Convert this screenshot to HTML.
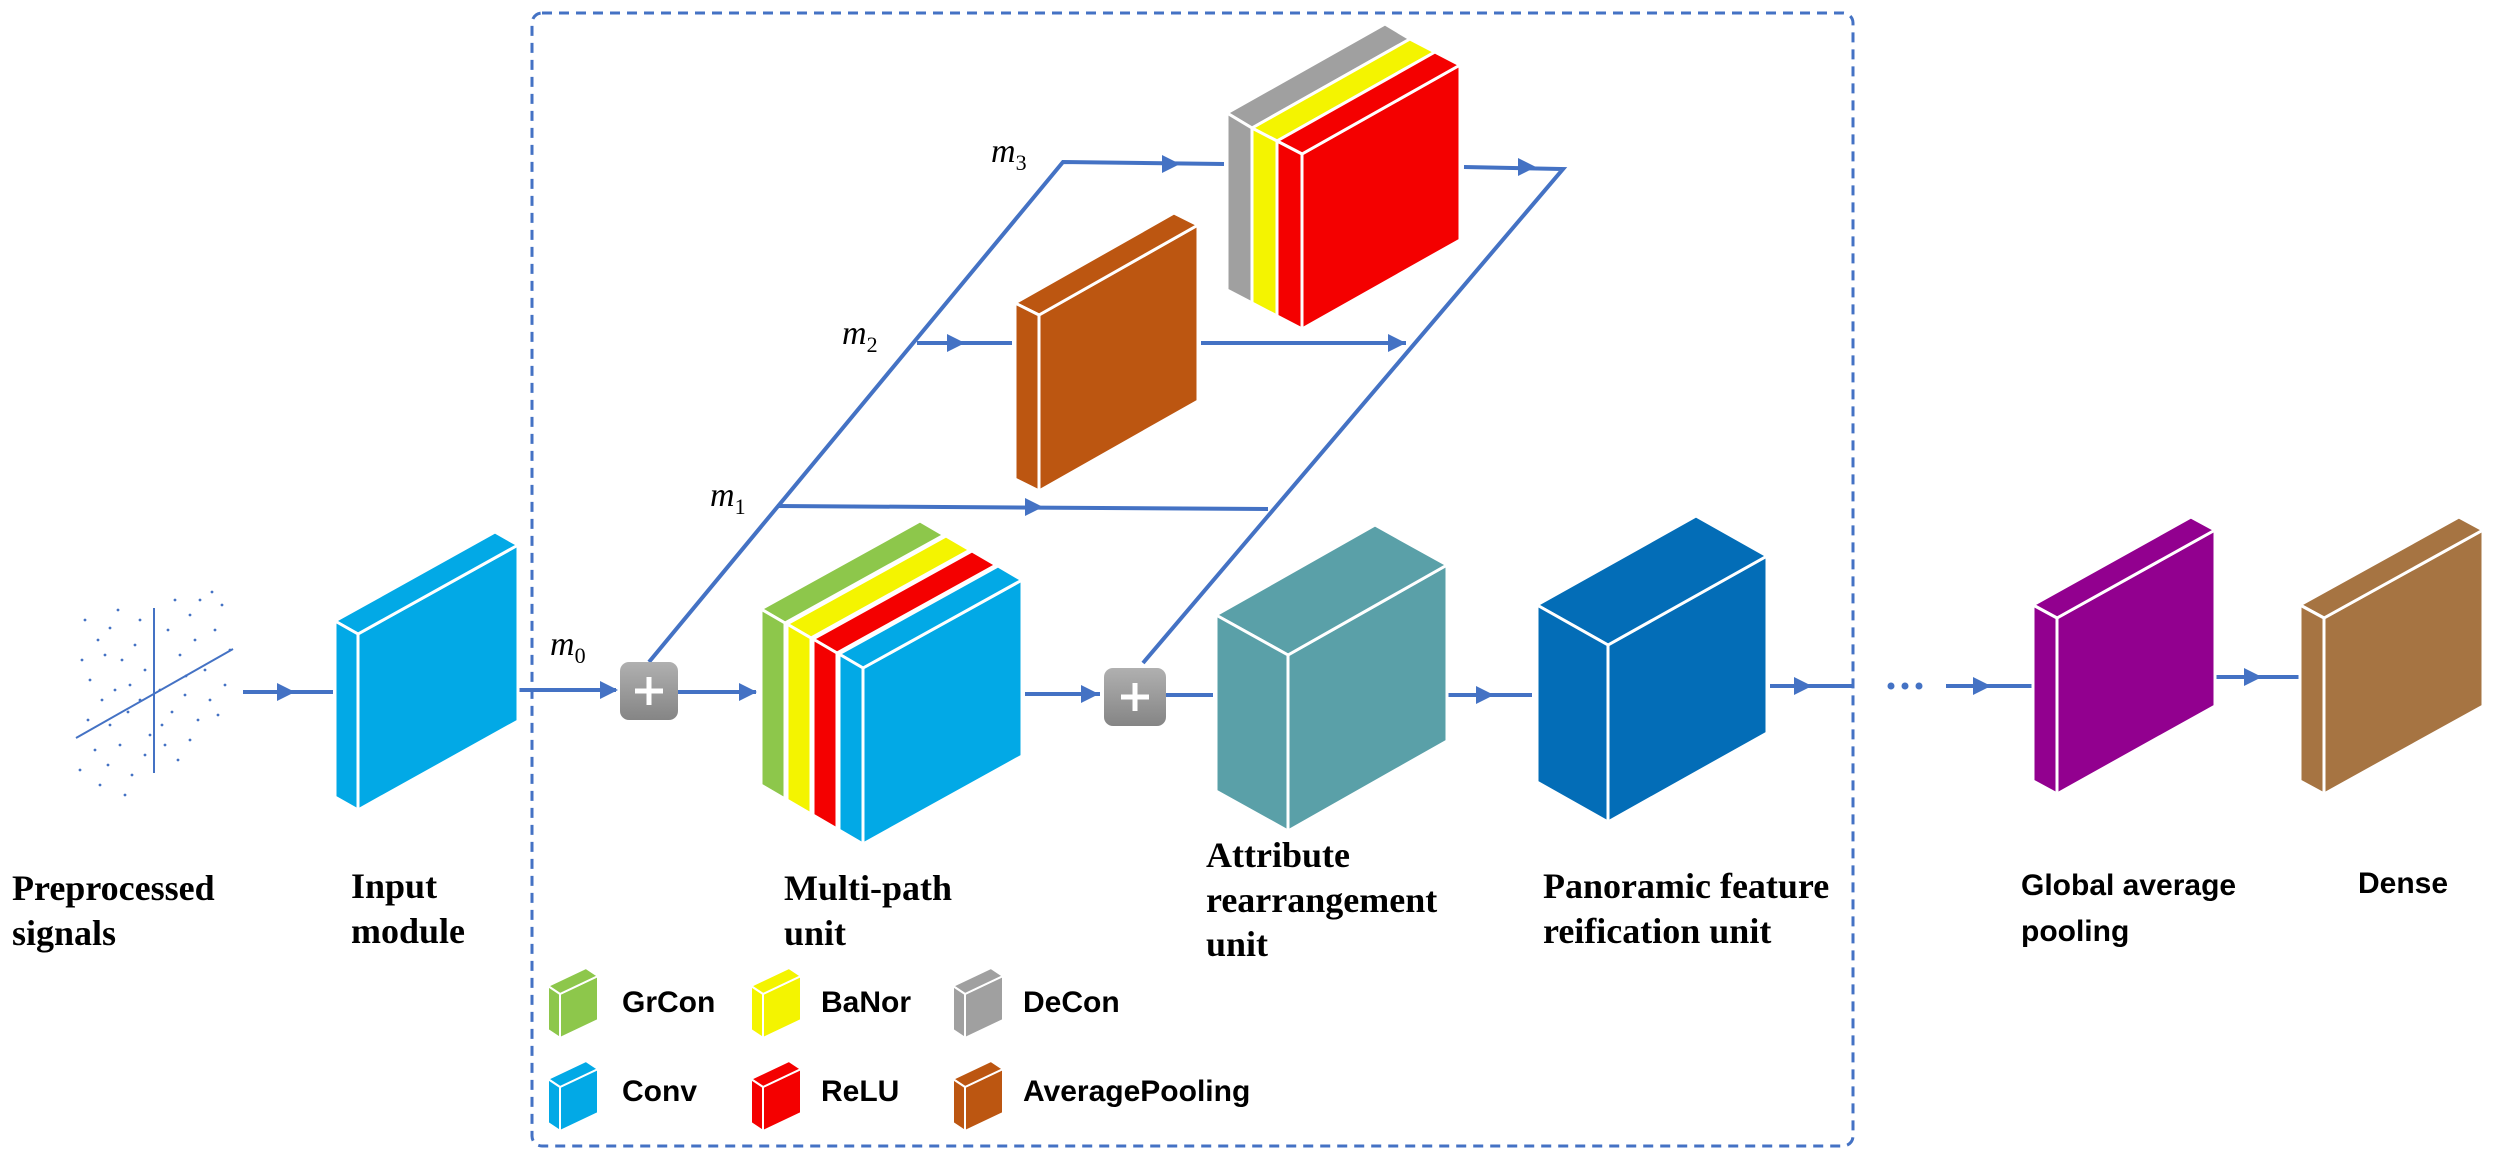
<!DOCTYPE html>
<html><head><meta charset="utf-8"><style>
html,body{margin:0;padding:0;background:#fff}
svg{display:block}
.sl{stroke:#fff;stroke-width:3;stroke-linejoin:round}
.ln{stroke:#4472C4;stroke-width:4;fill:none}
.ah{fill:#4472C4}
.sr{font-family:"Liberation Serif",serif;font-weight:bold;font-size:36px;fill:#000}
.ss{font-family:"Liberation Sans",sans-serif;font-weight:bold;font-size:30px;fill:#000}
.mm{font-family:"Liberation Serif",serif;font-style:italic;font-size:34px;fill:#000}
</style></head><body>
<svg width="2500" height="1163" viewBox="0 0 2500 1163" xmlns="http://www.w3.org/2000/svg">
<defs>
<linearGradient id="pg" x1="0" y1="0" x2="0" y2="1"><stop offset="0" stop-color="#b0b0b0"/><stop offset="1" stop-color="#858585"/></linearGradient>
</defs>
<rect x="532" y="13" width="1321" height="1133" rx="10" fill="none" stroke="#4472C4" stroke-width="3" stroke-dasharray="10,7"/>

<g fill="#4472C4">
<line x1="154" y1="608" x2="154" y2="773" stroke="#4472C4" stroke-width="2"/>
<line x1="76" y1="738" x2="233" y2="649" stroke="#4472C4" stroke-width="2"/>
<circle cx="85" cy="620" r="1.4"/><circle cx="98" cy="640" r="1.4"/><circle cx="110" cy="628" r="1.4"/><circle cx="122" cy="660" r="1.4"/><circle cx="135" cy="645" r="1.4"/><circle cx="145" cy="670" r="1.4"/><circle cx="168" cy="630" r="1.4"/><circle cx="180" cy="655" r="1.4"/><circle cx="195" cy="640" r="1.4"/><circle cx="205" cy="670" r="1.4"/><circle cx="215" cy="630" r="1.4"/><circle cx="222" cy="605" r="1.4"/><circle cx="212" cy="592" r="1.4"/><circle cx="190" cy="615" r="1.4"/><circle cx="90" cy="680" r="1.4"/><circle cx="102" cy="700" r="1.4"/><circle cx="115" cy="690" r="1.4"/><circle cx="128" cy="712" r="1.4"/><circle cx="140" cy="700" r="1.4"/><circle cx="160" cy="690" r="1.4"/><circle cx="172" cy="712" r="1.4"/><circle cx="185" cy="695" r="1.4"/><circle cx="198" cy="720" r="1.4"/><circle cx="210" cy="700" r="1.4"/><circle cx="225" cy="685" r="1.4"/><circle cx="95" cy="750" r="1.4"/><circle cx="108" cy="765" r="1.4"/><circle cx="120" cy="745" r="1.4"/><circle cx="132" cy="775" r="1.4"/><circle cx="145" cy="755" r="1.4"/><circle cx="165" cy="745" r="1.4"/><circle cx="178" cy="760" r="1.4"/><circle cx="190" cy="740" r="1.4"/><circle cx="100" cy="785" r="1.4"/><circle cx="125" cy="795" r="1.4"/><circle cx="82" cy="660" r="1.4"/><circle cx="230" cy="650" r="1.4"/><circle cx="118" cy="610" r="1.4"/><circle cx="140" cy="620" r="1.4"/><circle cx="175" cy="600" r="1.4"/><circle cx="200" cy="600" r="1.4"/><circle cx="88" cy="720" r="1.4"/><circle cx="110" cy="725" r="1.4"/><circle cx="162" cy="725" r="1.4"/><circle cx="186" cy="676" r="1.4"/><circle cx="130" cy="685" r="1.4"/><circle cx="105" cy="655" r="1.4"/><circle cx="218" cy="715" r="1.4"/><circle cx="150" cy="735" r="1.4"/><circle cx="80" cy="770" r="1.4"/>
</g>

<g class="ln">
<line x1="243" y1="692" x2="333" y2="692"/>
<line x1="446" y1="690" x2="616" y2="690"/>
<line x1="678" y1="692" x2="756" y2="692"/>
<polyline points="649,662 1063,162 1224,164"/>
<line x1="777" y1="506" x2="1268" y2="509"/>
<line x1="917" y1="343" x2="1012" y2="343"/>
<line x1="1201" y1="343" x2="1406" y2="343"/>
<polyline points="1464,167 1563,169 1143,663"/>
<line x1="1025" y1="694" x2="1100" y2="694"/>
<line x1="1166" y1="695" x2="1213" y2="695"/>
<line x1="1447" y1="695" x2="1532" y2="695"/>
<line x1="1770" y1="686" x2="1853" y2="686"/>
<line x1="1946" y1="686" x2="2035" y2="686"/>
<line x1="2215" y1="677" x2="2304" y2="677"/>
</g>
<g class="ah">
<polygon points="277,683 295,692 277,701"/>
<polygon points="476,681 494,690 476,699"/>
<polygon points="600,681 618,690 600,699"/>
<polygon points="739,683 757,692 739,701"/>
<polygon points="1162,155 1180,164 1162,173"/>
<polygon points="1025,498 1043,507 1025,516"/>
<polygon points="947,334 965,343 947,352"/>
<polygon points="1388,334 1406,343 1388,352"/>
<polygon points="1518,158 1536,167 1518,176"/>
<polygon points="1081,685 1099,694 1081,703"/>
<polygon points="1476,686 1494,695 1476,704"/>
<polygon points="1794,677 1812,686 1794,695"/>
<polygon points="1973,677 1991,686 1973,695"/>
<polygon points="2244,668 2262,677 2244,686"/>
</g>
<g fill="#4472C4"><circle cx="1891" cy="686" r="3.5"/><circle cx="1905" cy="686" r="3.5"/><circle cx="1919" cy="686" r="3.5"/></g>

<rect x="620" y="662" width="58" height="58" rx="9" fill="url(#pg)"/>
<path d="M649 677 V705 M635 691 H663" stroke="#fff" stroke-width="5"/>
<rect x="1104" y="668" width="62" height="58" rx="9" fill="url(#pg)"/>
<path d="M1135 683 V711 M1121 697 H1149" stroke="#fff" stroke-width="5"/>

<g class="sl" fill="#02A9E6">
<polygon points="358,634 518,545 518,721 358,810"/>
<polygon points="358,634 518,545 495,532 335,621"/>
<polygon points="358,634 358,810 335,797 335,621"/>
</g>
<g class="sl" fill="#8DC74B">
<polygon points="785,623 944,535 944,711 785,799"/><polygon points="785,623 944,535 920,521 761,609"/><polygon points="785,623 785,799 761,785 761,609"/>
</g>
<g class="sl" fill="#F4F400">
<polygon points="811,638 970,550 970,726 811,814"/><polygon points="811,638 970,550 946,536 787,624"/><polygon points="811,638 811,814 787,800 787,624"/>
</g>
<g class="sl" fill="#F40000">
<polygon points="837,653 996,565 996,741 837,829"/><polygon points="837,653 996,565 972,551 813,639"/><polygon points="837,653 837,829 813,815 813,639"/>
</g>
<g class="sl" fill="#02A9E6">
<polygon points="863,668 1022,580 1022,756 863,844"/><polygon points="863,668 1022,580 998,566 839,654"/><polygon points="863,668 863,844 839,830 839,654"/>
</g>
<g class="sl" fill="#A0A0A0">
<polygon points="1252,128 1410,39 1410,214 1252,303"/><polygon points="1252,128 1410,39 1385,24 1227,113"/><polygon points="1252,128 1252,303 1227,290 1227,113"/>
</g>
<g class="sl" fill="#F4F400">
<polygon points="1277,141 1435,52 1435,227 1277,316"/><polygon points="1277,141 1435,52 1410,39 1252,128"/><polygon points="1277,141 1277,316 1252,303 1252,128"/>
</g>
<g class="sl" fill="#F40000">
<polygon points="1302,154 1460,65 1460,240 1302,329"/><polygon points="1302,154 1460,65 1435,52 1277,141"/><polygon points="1302,154 1302,329 1277,316 1277,141"/>
</g>
<g class="sl" fill="#BC5611">
<polygon points="1039,315 1198,225 1198,401 1039,491"/><polygon points="1039,315 1198,225 1174,213 1015,303"/><polygon points="1039,315 1039,491 1015,479 1015,303"/>
</g>
<g class="sl" fill="#5AA0A8">
<polygon points="1288,655 1447,565 1447,741 1288,831"/><polygon points="1288,655 1447,565 1375,525 1216,615"/><polygon points="1288,655 1288,831 1216,791 1216,615"/>
</g>
<g class="sl" fill="#036DB7">
<polygon points="1608,645 1767,556 1767,733 1608,822"/><polygon points="1608,645 1767,556 1696,516 1537,605"/><polygon points="1608,645 1608,822 1537,782 1537,605"/>
</g>
<g class="sl" fill="#92008F">
<polygon points="2057,618 2215,530 2215,706 2057,794"/><polygon points="2057,618 2215,530 2191,517 2033,605"/><polygon points="2057,618 2057,794 2033,781 2033,605"/>
</g>
<g class="sl" fill="#A67442">
<polygon points="2324,618 2483,530 2483,706 2324,794"/><polygon points="2324,618 2483,530 2459,517 2300,605"/><polygon points="2324,618 2324,794 2300,781 2300,605"/>
</g>

<g class="sl" style="stroke-width:2">
<g transform="translate(560,994)" fill="#8DC74B"><polygon points="0,0 38,-18 38,26 0,44"/><polygon points="0,0 38,-18 26,-26 -12,-8"/><polygon points="0,0 0,44 -12,36 -12,-8"/></g>
<g transform="translate(763,994)" fill="#F4F400"><polygon points="0,0 38,-18 38,26 0,44"/><polygon points="0,0 38,-18 26,-26 -12,-8"/><polygon points="0,0 0,44 -12,36 -12,-8"/></g>
<g transform="translate(965,994)" fill="#A0A0A0"><polygon points="0,0 38,-18 38,26 0,44"/><polygon points="0,0 38,-18 26,-26 -12,-8"/><polygon points="0,0 0,44 -12,36 -12,-8"/></g>
<g transform="translate(560,1087)" fill="#02A9E6"><polygon points="0,0 38,-18 38,26 0,44"/><polygon points="0,0 38,-18 26,-26 -12,-8"/><polygon points="0,0 0,44 -12,36 -12,-8"/></g>
<g transform="translate(763,1087)" fill="#F40000"><polygon points="0,0 38,-18 38,26 0,44"/><polygon points="0,0 38,-18 26,-26 -12,-8"/><polygon points="0,0 0,44 -12,36 -12,-8"/></g>
<g transform="translate(965,1087)" fill="#BC5611"><polygon points="0,0 38,-18 38,26 0,44"/><polygon points="0,0 38,-18 26,-26 -12,-8"/><polygon points="0,0 0,44 -12,36 -12,-8"/></g>
</g>
<text class="ss" x="622" y="1012">GrCon</text>
<text class="ss" x="821" y="1012">BaNor</text>
<text class="ss" x="1023" y="1012">DeCon</text>
<text class="ss" x="622" y="1101">Conv</text>
<text class="ss" x="821" y="1101">ReLU</text>
<text class="ss" x="1023" y="1101">AveragePooling</text>

<text class="mm" x="550" y="655">m<tspan font-size="22" dy="8" font-style="normal">0</tspan></text>
<text class="mm" x="710" y="506">m<tspan font-size="22" dy="8" font-style="normal">1</tspan></text>
<text class="mm" x="842" y="344">m<tspan font-size="22" dy="8" font-style="normal">2</tspan></text>
<text class="mm" x="991" y="162">m<tspan font-size="22" dy="8" font-style="normal">3</tspan></text>

<text class="sr" x="12" y="900">Preprocessed</text>
<text class="sr" x="12" y="945">signals</text>
<text class="sr" x="351" y="898">Input</text>
<text class="sr" x="351" y="943">module</text>
<text class="sr" x="784" y="900">Multi-path</text>
<text class="sr" x="784" y="945">unit</text>
<text class="sr" x="1206" y="867">Attribute</text>
<text class="sr" x="1206" y="912">rearrangement</text>
<text class="sr" x="1206" y="956">unit</text>
<text class="sr" x="1543" y="898">Panoramic feature</text>
<text class="sr" x="1543" y="943">reification unit</text>
<text class="ss" x="2021" y="895">Global average</text>
<text class="ss" x="2021" y="941">pooling</text>
<text class="ss" x="2358" y="893">Dense</text>
</svg>
</body></html>
